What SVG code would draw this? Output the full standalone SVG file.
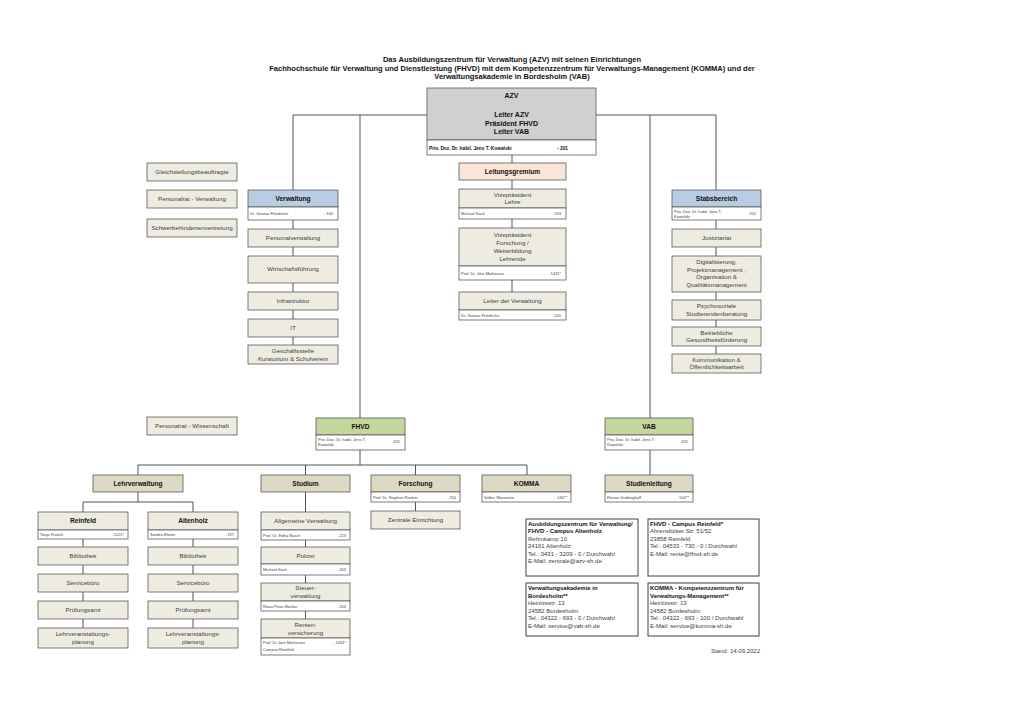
<svg xmlns="http://www.w3.org/2000/svg" width="1024" height="724" viewBox="0 0 1024 724">
<style>
text{font-family:"Liberation Sans",Arial,sans-serif;fill:#404040}
.n rect{stroke:#5a5a5a;stroke-width:0.8}
.be{fill:#eeece1}
.kh{fill:#ddd9c3}
.bl{fill:#b8cce4}
.gr{fill:#c3d69b}
.pe{fill:#fce4d6}
.gy{fill:#d0d0d0}
.wh{fill:#ffffff}
.t{font-size:6.2px;text-anchor:middle}
.h{font-size:6.6px;font-weight:bold;text-anchor:middle;fill:#111}
.s{font-size:4px}
.e{font-size:4px;text-anchor:end}
.ti{font-size:7.5px;font-weight:bold;text-anchor:middle;fill:#111}
.i{font-size:6px}
.ib{font-size:6px;font-weight:bold;fill:#111}
.info rect{fill:#fff;stroke:#404040;stroke-width:1}
#connectors line{stroke:#404040;stroke-width:0.9}
</style>
<rect width="1024" height="724" fill="#fff"/>
<g id="title">
<text class="ti" x="512" y="62">Das Ausbildungszentrum für Verwaltung (AZV) mit seinen Einrichtungen</text>
<text class="ti" x="512" y="70.5">Fachhochschule für Verwaltung und Dienstleistung (FHVD) mit dem Kompetenzzentrum für Verwaltungs-Management (KOMMA) und der</text>
<text class="ti" x="512" y="79">Verwaltungsakademie in Bordesholm (VAB)</text>
</g>
<g id="connectors">
<line x1="293" y1="115" x2="427" y2="115"/><line x1="596" y1="115" x2="716" y2="115"/>
<line x1="293" y1="115" x2="293" y2="190"/><line x1="360" y1="115" x2="360" y2="418"/>
<line x1="650" y1="115" x2="650" y2="418"/><line x1="716" y1="115" x2="716" y2="190"/>
<line x1="512" y1="155" x2="512" y2="163"/><line x1="512" y1="180" x2="512" y2="189"/>
<line x1="512" y1="219" x2="512" y2="228"/><line x1="512" y1="280" x2="512" y2="292"/>
<line x1="293" y1="220" x2="293" y2="229"/><line x1="293" y1="247" x2="293" y2="256"/>
<line x1="293" y1="283" x2="293" y2="292"/><line x1="293" y1="310" x2="293" y2="319"/>
<line x1="293" y1="337" x2="293" y2="345"/>
<line x1="716" y1="220" x2="716" y2="229"/><line x1="716" y1="247" x2="716" y2="256"/>
<line x1="716" y1="292" x2="716" y2="300"/><line x1="716" y1="320" x2="716" y2="327"/>
<line x1="716" y1="346" x2="716" y2="354"/>
<line x1="360" y1="450" x2="360" y2="465"/><line x1="138" y1="465" x2="527" y2="465"/>
<line x1="138" y1="465" x2="138" y2="475"/><line x1="305.5" y1="465" x2="305.5" y2="475"/>
<line x1="415.5" y1="465" x2="415.5" y2="475"/><line x1="527" y1="465" x2="527" y2="475"/>
<line x1="650" y1="450" x2="650" y2="475"/>
<line x1="138" y1="492" x2="138" y2="502"/><line x1="83" y1="502" x2="193" y2="502"/>
<line x1="83" y1="502" x2="83" y2="512"/><line x1="193" y1="502" x2="193" y2="512"/>
<line x1="83" y1="539" x2="83" y2="547"/><line x1="83" y1="565" x2="83" y2="574"/>
<line x1="83" y1="592" x2="83" y2="601"/><line x1="83" y1="619" x2="83" y2="628"/>
<line x1="193" y1="539" x2="193" y2="547"/><line x1="193" y1="565" x2="193" y2="574"/>
<line x1="193" y1="592" x2="193" y2="601"/><line x1="193" y1="619" x2="193" y2="628"/>
<line x1="305.5" y1="492" x2="305.5" y2="512"/><line x1="305.5" y1="540" x2="305.5" y2="547"/>
<line x1="305.5" y1="575" x2="305.5" y2="583"/><line x1="305.5" y1="611" x2="305.5" y2="619"/>
<line x1="415.5" y1="502" x2="415.5" y2="511"/>
</g>
<g id="azv" class="n">
<rect class="gy" x="427" y="88" width="169" height="52"/><rect class="wh" x="427" y="140" width="169" height="15"/>
<text class="h" x="511.5" y="98" style="font-size:7px">AZV</text>
<text class="h" x="511.5" y="117" style="font-size:7px">Leiter AZV</text>
<text class="h" x="511.5" y="125.5" style="font-size:7px">Präsident FHVD</text>
<text class="h" x="511.5" y="134" style="font-size:7px">Leiter VAB</text>
<text x="429" y="149.5" style="font-size:4.8px;font-weight:bold;fill:#111">Priv. Doz. Dr. habil. Jens T. Kowalski</text>
<text x="568" y="149.5" style="font-size:4.8px;font-weight:bold;fill:#111;text-anchor:end">- 201</text>
</g>
<g id="gleichstellung" class="n"><rect class="be" x="147" y="163" width="90" height="18"/><text class="t" x="192" y="174">Gleichstellungsbeauftragte</text></g>
<g id="personalrat-verwaltung" class="n"><rect class="be" x="147" y="190" width="90" height="18"/><text class="t" x="192" y="201">Personalrat - Verwaltung</text></g>
<g id="schwerbehinderten" class="n"><rect class="be" x="147" y="219" width="90" height="18"/><text class="t" x="192" y="230">Schwerbehindertenvertretung</text></g>
<g id="personalrat-wissenschaft" class="n"><rect class="be" x="147" y="417" width="90" height="18"/><text class="t" x="192" y="428">Personalrat - Wissenschaft</text></g>

<g id="verwaltung" class="n"><rect class="bl" x="248" y="190" width="90" height="17"/><rect class="wh" x="248" y="207" width="90" height="13"/>
<text class="h" x="293" y="201">Verwaltung</text><text class="s" x="250" y="215">Dr. Gunnar Friedrichs</text><text class="e" x="333" y="215">- 100</text></g>
<g id="personalverwaltung" class="n"><rect class="be" x="248" y="229" width="90" height="18"/><text class="t" x="293" y="240">Personalverwaltung</text></g>
<g id="wirtschaftsfuehrung" class="n"><rect class="be" x="248" y="256" width="90" height="27"/><text class="t" x="293" y="271">Wirtschaftsführung</text></g>
<g id="infrastruktur" class="n"><rect class="be" x="248" y="292" width="90" height="18"/><text class="t" x="293" y="303">Infrastruktur</text></g>
<g id="it" class="n"><rect class="be" x="248" y="319" width="90" height="18"/><text class="t" x="293" y="330">IT</text></g>
<g id="geschaeftsstelle" class="n"><rect class="be" x="248" y="345" width="90" height="19"/><text class="t" x="293" y="353">Geschäftsstelle</text><text class="t" x="293" y="360.5">Kuratorium &amp; Schulverein</text></g>

<g id="leitungsgremium" class="n"><rect class="pe" x="459" y="163" width="107" height="17"/><text class="h" x="512.5" y="173.5">Leitungsgremium</text></g>
<g id="vp-lehre" class="n"><rect class="be" x="459" y="189" width="107" height="19"/><rect class="wh" x="459" y="208" width="107" height="11"/>
<text class="t" x="512.5" y="196.5">Vizepräsident</text><text class="t" x="512.5" y="204">Lehre</text>
<text class="s" x="461" y="215">Michael Kock</text><text class="e" x="561" y="215">- 203</text></g>
<g id="vp-forschung" class="n"><rect class="be" x="459" y="228" width="107" height="38"/><rect class="wh" x="459" y="266" width="107" height="14"/>
<text class="t" x="512.5" y="237">Vizepräsident</text><text class="t" x="512.5" y="245">Forschung /</text><text class="t" x="512.5" y="253">Weiterbildung</text><text class="t" x="512.5" y="261">Lehrende</text>
<text class="s" x="461" y="274.5">Prof. Dr. Jörn Mathesius</text><text class="e" x="561" y="274.5">- 1431*</text></g>
<g id="leiter-verwaltung" class="n"><rect class="be" x="459" y="292" width="107" height="18"/><rect class="wh" x="459" y="310" width="107" height="10"/>
<text class="t" x="512.5" y="303">Leiter der Verwaltung</text>
<text class="s" x="461" y="316.5">Dr. Gunnar Friedrichs</text><text class="e" x="561" y="316.5">-100</text></g>

<g id="stabsbereich" class="n"><rect class="bl" x="672" y="190" width="89" height="17"/><rect class="wh" x="672" y="207" width="89" height="13"/>
<text class="h" x="716.5" y="201">Stabsbereich</text><text class="s" x="674" y="212.5">Priv. Doz. Dr. habil. Jens T.</text><text class="s" x="674" y="217.5">Kowalski</text><text class="e" x="756" y="215">201</text></g>
<g id="justiziariat" class="n"><rect class="be" x="672" y="229" width="89" height="18"/><text class="t" x="716.5" y="240">Justiziariat</text></g>
<g id="digitalisierung" class="n"><rect class="be" x="672" y="256" width="89" height="36"/>
<text class="t" x="716.5" y="264">Digitalisierung,</text><text class="t" x="716.5" y="271.5">Projektmanagement ,</text><text class="t" x="716.5" y="279">Organisation &amp;</text><text class="t" x="716.5" y="286.5">Qualitätsmanagement</text></g>
<g id="psychosoziale" class="n"><rect class="be" x="672" y="300" width="89" height="20"/><text class="t" x="716.5" y="308">Psychosoziale</text><text class="t" x="716.5" y="315.5">Studierendenberatung</text></g>
<g id="gesundheit" class="n"><rect class="be" x="672" y="327" width="89" height="19"/><text class="t" x="716.5" y="334.5">Betriebliche</text><text class="t" x="716.5" y="342">Gesundheitsförderung</text></g>
<g id="kommunikation" class="n"><rect class="be" x="672" y="354" width="89" height="19"/><text class="t" x="716.5" y="361.5">Kommunikation &amp;</text><text class="t" x="716.5" y="369">Öffentlichkeitsarbeit</text></g>

<g id="fhvd" class="n"><rect class="gr" x="316" y="418" width="89" height="17"/><rect class="wh" x="316" y="435" width="89" height="15"/>
<text class="h" x="360.5" y="429">FHVD</text><text class="s" x="318" y="440.5">Priv. Doz. Dr. habil. Jens T.</text><text class="s" x="318" y="446">Kowalski</text><text class="e" x="400" y="443">- 201</text></g>
<g id="vab" class="n"><rect class="gr" x="605" y="418" width="88" height="17"/><rect class="wh" x="605" y="435" width="88" height="15"/>
<text class="h" x="649" y="429">VAB</text><text class="s" x="607" y="440.5">Priv. Doz. Dr. habil. Jens T.</text><text class="s" x="607" y="446">Kowalski</text><text class="e" x="688" y="443">- 201</text></g>

<g id="lehrverwaltung" class="n"><rect class="kh" x="93" y="475" width="90" height="17"/><text class="h" x="138" y="486">Lehrverwaltung</text></g>
<g id="studium" class="n"><rect class="kh" x="261" y="475" width="89" height="17"/><text class="h" x="305.5" y="486">Studium</text></g>
<g id="forschung" class="n"><rect class="kh" x="371" y="475" width="89" height="17"/><rect class="wh" x="371" y="492" width="89" height="10"/>
<text class="h" x="415.5" y="486">Forschung</text><text class="s" x="373" y="498.5">Prof. Dr. Stephan Reimer</text><text class="e" x="456" y="498.5">- 250</text></g>
<g id="komma" class="n"><rect class="kh" x="482" y="475" width="89" height="17"/><rect class="wh" x="482" y="492" width="89" height="10"/>
<text class="h" x="526.5" y="486">KOMMA</text><text class="s" x="484" y="498.5">Volker Warnecke</text><text class="e" x="567" y="498.5">- 530**</text></g>
<g id="studienleitung" class="n"><rect class="kh" x="605" y="475" width="88" height="17"/><rect class="wh" x="605" y="492" width="88" height="10"/>
<text class="h" x="649" y="486">Studienleitung</text><text class="s" x="607" y="498.5">Florian Gröbinghoff</text><text class="e" x="689" y="498.5">- 500**</text></g>
<g id="zentrale-einrichtung" class="n"><rect class="be" x="371" y="511" width="89" height="18"/><text class="t" x="415.5" y="522">Zentrale Einrichtung</text></g>

<g id="reinfeld" class="n"><rect class="be" x="38" y="512" width="90" height="18"/><rect class="wh" x="38" y="530" width="90" height="9"/>
<text class="h" x="83" y="523">Reinfeld</text><text class="s" x="40" y="536">Tanja Franck</text><text class="e" x="124" y="536">- 1121*</text></g>
<g id="altenholz" class="n"><rect class="be" x="148" y="512" width="90" height="18"/><rect class="wh" x="148" y="530" width="90" height="9"/>
<text class="h" x="193" y="523">Altenholz</text><text class="s" x="150" y="536">Sandra Elsner</text><text class="e" x="234" y="536">- 197</text></g>
<g id="bibliothek-r" class="n"><rect class="be" x="38" y="547" width="90" height="18"/><text class="t" x="83" y="558">Bibliothek</text></g>
<g id="servicebuero-r" class="n"><rect class="be" x="38" y="574" width="90" height="18"/><text class="t" x="83" y="585">Servicebüro</text></g>
<g id="pruefungsamt-r" class="n"><rect class="be" x="38" y="601" width="90" height="18"/><text class="t" x="83" y="612">Prüfungsamt</text></g>
<g id="lvp-r" class="n"><rect class="be" x="38" y="628" width="90" height="20"/><text class="t" x="83" y="636">Lehrveranstaltungs-</text><text class="t" x="83" y="643.5">planung</text></g>
<g id="bibliothek-a" class="n"><rect class="be" x="148" y="547" width="90" height="18"/><text class="t" x="193" y="558">Bibliothek</text></g>
<g id="servicebuero-a" class="n"><rect class="be" x="148" y="574" width="90" height="18"/><text class="t" x="193" y="585">Servicebüro</text></g>
<g id="pruefungsamt-a" class="n"><rect class="be" x="148" y="601" width="90" height="18"/><text class="t" x="193" y="612">Prüfungsamt</text></g>
<g id="lvp-a" class="n"><rect class="be" x="148" y="628" width="90" height="20"/><text class="t" x="193" y="636">Lehrveranstaltungs-</text><text class="t" x="193" y="643.5">planung</text></g>

<g id="allg-verwaltung" class="n"><rect class="be" x="261" y="512" width="89" height="18"/><rect class="wh" x="261" y="530" width="89" height="10"/>
<text class="t" x="305.5" y="523">Allgemeine Verwaltung</text><text class="s" x="263" y="536.5">Prof. Dr. Edna Rasch</text><text class="e" x="346" y="536.5">- 223</text></g>
<g id="polizei" class="n"><rect class="be" x="261" y="547" width="89" height="17"/><rect class="wh" x="261" y="564" width="89" height="11"/>
<text class="t" x="305.5" y="557.5">Polizei</text><text class="s" x="263" y="571">Michael Kock</text><text class="e" x="346" y="571">- 203</text></g>
<g id="steuerverwaltung" class="n"><rect class="be" x="261" y="583" width="89" height="18"/><rect class="wh" x="261" y="601" width="89" height="10"/>
<text class="t" x="305.5" y="590">Steuer-</text><text class="t" x="305.5" y="598">verwaltung</text><text class="s" x="263" y="607.5">Klaus-Peter Becker</text><text class="e" x="346" y="607.5">- 204</text></g>
<g id="rentenversicherung" class="n"><rect class="be" x="261" y="619" width="89" height="19"/><rect class="wh" x="261" y="638" width="89" height="17"/>
<text class="t" x="305.5" y="626.5">Renten-</text><text class="t" x="305.5" y="635">versicherung</text><text class="s" x="263" y="643.5">Prof. Dr Jörn Mathesius</text><text class="e" x="346" y="643.5">- 1431*</text><text class="s" x="263" y="651">Campus Reinfeld</text></g>

<g id="info-azv" class="info"><rect x="526" y="519" width="112" height="57"/>
<text class="ib" x="528" y="525.5">Ausbildungszentrum für Verwaltung/</text><text class="ib" x="528" y="533">FHVD - Campus Altenholz</text>
<text class="i" x="528" y="540.5">Rehmkamp 10</text><text class="i" x="528" y="548">24161 Altenholz</text>
<text class="i" x="528" y="555.5">Tel.: 0431 - 3209 - 0 / Durchwahl</text><text class="i" x="528" y="563">E-Mail: zentrale@azv-sh.de</text></g>
<g id="info-reinfeld" class="info"><rect x="648" y="519" width="111" height="57"/>
<text class="ib" x="650" y="525.5">FHVD - Campus Reinfeld*</text><text class="i" x="650" y="533">Ahrensböker Str. 51/52</text>
<text class="i" x="650" y="540.5">23858 Reinfeld</text><text class="i" x="650" y="548">Tel.: 04533 - 730 - 0 / Durchwahl</text>
<text class="i" x="650" y="555.5">E-Mail: rente@fhvd-sh.de</text></g>
<g id="info-vab" class="info"><rect x="526" y="583" width="112" height="53"/>
<text class="ib" x="528" y="590">Verwaltungsakademie in</text><text class="ib" x="528" y="597.5">Bordesholm**</text>
<text class="i" x="528" y="605">Heintzestr. 13</text><text class="i" x="528" y="612.5">24582 Bordesholm</text>
<text class="i" x="528" y="620">Tel.: 04322 - 693 - 0 / Durchwahl</text><text class="i" x="528" y="627.5">E-Mail: service@vab-sh.de</text></g>
<g id="info-komma" class="info"><rect x="648" y="583" width="111" height="53"/>
<text class="ib" x="650" y="590">KOMMA - Kompetenzzentrum für</text><text class="ib" x="650" y="597.5">Verwaltungs-Management**</text>
<text class="i" x="650" y="605">Heintzestr. 13</text><text class="i" x="650" y="612.5">24582 Bordesholm</text>
<text class="i" x="650" y="620">Tel.: 04322 - 693 - 100 / Durchwahl</text><text class="i" x="650" y="627.5">E-Mail: service@komma-sh.de</text></g>
<text class="i" x="760" y="653" style="text-anchor:end">Stand: 14.09.2022</text>
</svg>
